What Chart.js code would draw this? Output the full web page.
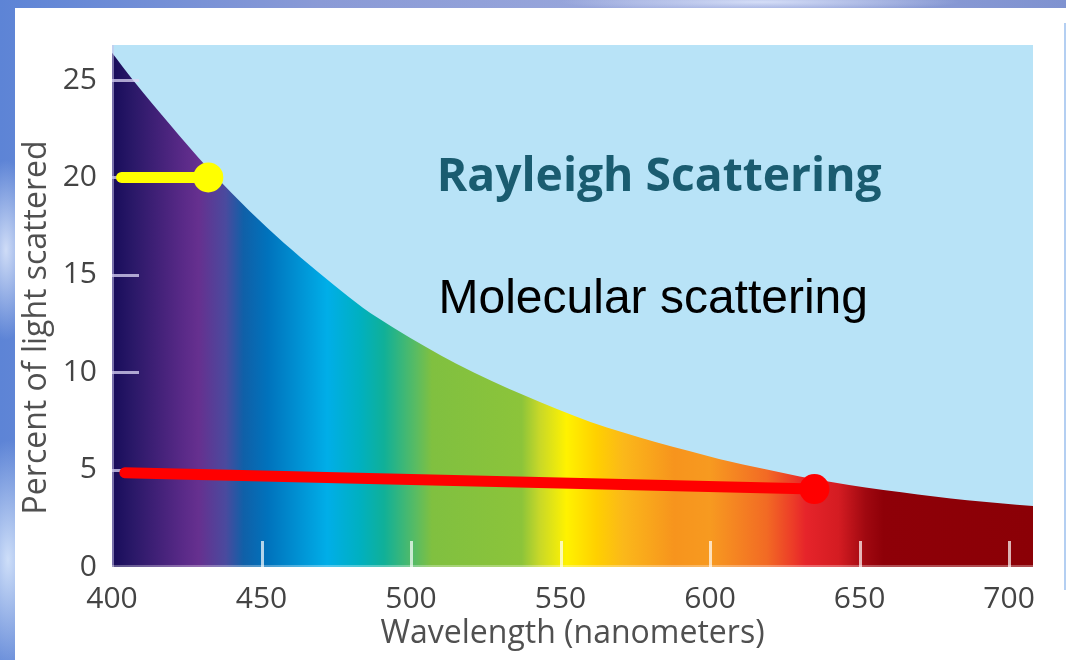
<!DOCTYPE html>
<html>
<head>
<meta charset="utf-8">
<script src="https://cdn.jsdelivr.net/npm/chart.js@4.4.1/dist/chart.umd.min.js"></script>
<style>
  html, body { margin: 0; padding: 0; }
  body {
    width: 1066px; height: 660px; overflow: hidden; position: relative;
    background:
      radial-gradient(ellipse 30px 90px at 6px 250px, rgba(235,242,255,0.8), transparent),
      radial-gradient(ellipse 40px 120px at 8px 560px, rgba(225,238,255,0.85), transparent),
      radial-gradient(ellipse 200px 10px at 760px 2px, rgba(220,228,250,0.9), transparent),
      linear-gradient(90deg, #5d84d6, #8a9ad6 30%, #9aa8dc 60%, #7f92d0);
  }
  .panel { position: absolute; left: 15px; top: 8px; width: 1051px; height: 652px; background: #fff; }
  .edge { position: absolute; left: 1064px; top: 23px; width: 2px; height: 567px; background: #b4cff2; }
</style>
</head>
<body>
<div class="panel"><canvas id="rayleigh"></canvas></div>
<div class="edge"></div>
<script>
// curve (nm -> % scattered)
const wavelengths = [400, 407, 420, 429, 440, 452, 463, 474, 484, 494, 505, 515, 527, 538, 549, 560,
                     571, 582, 593, 603, 619, 630, 641, 652, 664, 675, 686, 697, 708];
const percentScattered = [26.4, 25.0, 22.6, 21.0, 19.2, 17.4, 15.9, 14.5, 13.3, 12.3, 11.3, 10.45, 9.55, 8.8, 8.1, 7.45,
                          6.9, 6.4, 5.95, 5.55, 5.0, 4.65, 4.35, 4.08, 3.84, 3.62, 3.43, 3.27, 3.13];

// the two marker lines
const yellowX = [403.2, 432.2];
const yellowY = [20, 20];
const redX = [404.3, 634.9];
const redY = [4.84, 4.0];

const xTicks = [400, 450, 500, 550, 600, 650, 700];
const yTicks = [0, 5, 10, 15, 20, 25];

// spectrum colours along the wavelength axis
const spectrumNm = [400, 407, 424, 429, 438, 444, 452, 472, 483, 491, 502, 507, 537, 543, 552, 562,
                    571, 588, 600, 619, 628, 632, 643, 652, 658, 708];
const spectrumColors = ['#170c5a', '#2a1868', '#5a2a88', '#66308f', '#4a4a9e', '#1060a8', '#0072bc', '#00aee8',
                        '#00b0c0', '#10b098', '#5cbc60', '#80c040', '#8cc43a', '#c8d828', '#fff200', '#ffd000',
                        '#fbb81a', '#f7941d', '#f79a20', '#f26a24', '#ec3a28', '#e6242a', '#d41c22', '#a00810',
                        '#8e0008', '#8b0006'];

const toPoints = (xs, ys) => xs.map((x, i) => ({ x: x, y: ys[i] }));

function spectrum(c) {
  const chart = c.chart;
  const area = chart.chartArea;
  if (!area) return '#6a2d90';
  const xs = chart.scales.x;
  const g = chart.ctx.createLinearGradient(area.left, 0, area.right, 0);
  spectrumNm.forEach((nm, i) => {
    let p = (xs.getPixelForValue(nm) - area.left) / (area.right - area.left);
    g.addColorStop(Math.min(1, Math.max(0, p)), spectrumColors[i]);
  });
  return g;
}

const plotBack = {
  id: 'plotBack',
  beforeDraw(chart) {
    const { ctx, chartArea: a } = chart;
    ctx.save();
    ctx.fillStyle = '#b8e3f7';
    ctx.fillRect(a.left, a.top, a.right - a.left, a.bottom - a.top);
    ctx.restore();
  }
};

// inside tick marks, drawn over the spectrum but under the marker lines
const innerTicks = {
  id: 'innerTicks',
  afterDatasetDraw(chart, args) {
    if (args.index !== 0) return;
    const { ctx, chartArea: a, scales } = chart;
    ctx.save();
    ctx.lineWidth = 3;
    ctx.strokeStyle = 'rgba(255,255,255,0.7)';
    xTicks.slice(1).forEach(v => {
      const px = Math.round(scales.x.getPixelForValue(v)) + 0.5;
      ctx.beginPath(); ctx.moveTo(px, a.bottom); ctx.lineTo(px, a.bottom - 26); ctx.stroke();
    });
    ctx.strokeStyle = 'rgba(220,215,245,0.75)';
    yTicks.slice(1).forEach(v => {
      const py = Math.round(scales.y.getPixelForValue(v)) + 0.5;
      ctx.beginPath(); ctx.moveTo(a.left, py); ctx.lineTo(a.left + 27, py); ctx.stroke();
    });
    // light frame on left and bottom edge
    ctx.strokeStyle = 'rgba(200,195,235,0.55)';
    ctx.lineWidth = 2;
    ctx.beginPath(); ctx.moveTo(a.left + 1, a.top); ctx.lineTo(a.left + 1, a.bottom); ctx.stroke();
    ctx.strokeStyle = 'rgba(255,255,255,0.3)';
    ctx.beginPath(); ctx.moveTo(a.left, a.bottom - 1); ctx.lineTo(a.right, a.bottom - 1); ctx.stroke();
    ctx.restore();
  }
};

const labels = {
  id: 'labels',
  afterDraw(chart) {
    const { ctx, scales } = chart;
    ctx.save();
    ctx.textAlign = 'center';
    ctx.textBaseline = 'alphabetic';
    ctx.fillStyle = '#1a5c70';
    ctx.font = 'bold 47px "Open Sans"';
    ctx.fillText('Rayleigh Scattering', scales.x.getPixelForValue(583), scales.y.getPixelForValue(19.3), 445);
    ctx.fillStyle = '#000';
    ctx.font = '48px "Liberation Sans", Arial';
    ctx.fillText('Molecular scattering', scales.x.getPixelForValue(581), scales.y.getPixelForValue(13.05));
    // y axis title, sits a bit below the middle of the axis
    ctx.translate(scales.y.left + 22, scales.y.getPixelForValue(12.3));
    ctx.rotate(-Math.PI / 2);
    ctx.textBaseline = 'middle';
    ctx.fillStyle = '#505050';
    ctx.font = '32px "Open Sans"';
    ctx.fillText('Percent of light scattered', 0, 0);
    ctx.restore();
  }
};

const tickFont = { family: 'Open Sans', size: 30 };
const titleFont = { family: 'Open Sans', size: 32 };

new Chart(document.getElementById('rayleigh').getContext('2d'), {
  type: 'line',
  data: {
    datasets: [{
      data: toPoints(wavelengths, percentScattered),
      order: 3,
      borderWidth: 0,
      pointRadius: 0,
      cubicInterpolationMode: 'monotone',
      fill: 'origin',
      backgroundColor: spectrum
    }, {
      data: toPoints(yellowX, yellowY),
      order: 1,
      borderColor: '#ffff00',
      borderWidth: 11,
      borderCapStyle: 'round',
      pointRadius: [0, 15],
      pointBorderWidth: 0,
      pointBackgroundColor: '#ffff00'
    }, {
      data: toPoints(redX, redY),
      order: 1,
      borderColor: '#ff0000',
      borderWidth: 11,
      borderCapStyle: 'round',
      pointRadius: [0, 15],
      pointBorderWidth: 0,
      pointBackgroundColor: '#ff0000'
    }]
  },
  options: {
    responsive: true,
    maintainAspectRatio: false,
    animation: false,
    layout: { padding: { top: 37, right: 33, left: 0, bottom: 0 } },
    plugins: { legend: { display: false }, tooltip: { enabled: false } },
    scales: {
      x: {
        type: 'linear', min: 400, max: 708,
        afterFit: s => { s.height = 93; },
        grid: { display: false, drawTicks: false },
        border: { display: false },
        ticks: { stepSize: 50, includeBounds: false, font: tickFont, color: '#444', padding: 14, maxRotation: 0 },
        title: { display: true, text: 'Wavelength (nanometers)', font: titleFont, color: '#505050', padding: { top: 0, bottom: 7 } }
      },
      y: {
        type: 'linear', min: 0, max: 26.8,
        afterFit: s => { s.width = 97; },
        grid: { display: false, drawTicks: false },
        border: { display: false },
        ticks: { stepSize: 5, includeBounds: false, font: tickFont, color: '#444', padding: 15 },
        title: { display: false }
      }
    }
  },
  plugins: [plotBack, innerTicks, labels]
});
</script>
</body>
</html>
